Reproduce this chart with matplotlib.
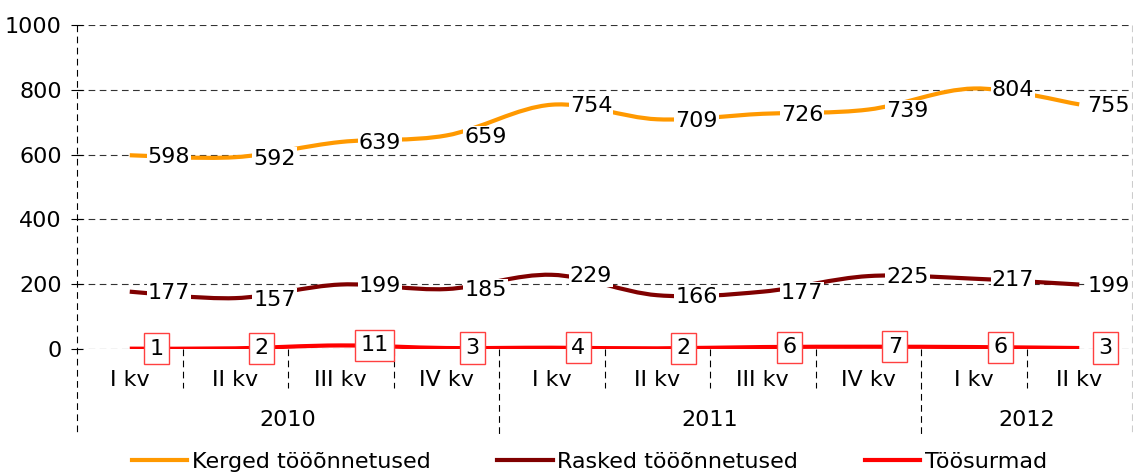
import numpy as np
import matplotlib
matplotlib.use("Agg")
import matplotlib.pyplot as plt
from matplotlib.path import Path
from matplotlib.patches import PathPatch
from matplotlib.lines import Line2D
import matplotlib.transforms as mtransforms

# data
quarters = ["I kv", "II kv", "III kv", "IV kv", "I kv", "II kv", "III kv", "IV kv", "I kv", "II kv"]
years = ["2010", "2011", "2012"]
year_spans = [(0, 3), (4, 7), (8, 9)]
kerged = [598, 592, 639, 659, 754, 709, 726, 739, 804, 755]
rasked = [177, 157, 199, 185, 229, 166, 177, 225, 217, 199]
surmad = [1, 2, 11, 3, 4, 2, 6, 7, 6, 3]
series_names = ["Kerged tööõnnetused", "Rasked tööõnnetused", "Töösurmad"]
colors = ["#FF9900", "#800000", "#FF0000"]

plt.rcParams['font.family'] = ['DejaVu Sans']
FS = 16


def smooth_path(xs, ys):
    # excel-like smoothed line as cubic bezier through the points
    pts = np.column_stack([xs, ys]).astype(float)
    n = len(pts)
    verts = [pts[0]]
    codes = [Path.MOVETO]
    for i in range(n - 1):
        p0 = pts[i - 1] if i > 0 else pts[i]
        p1 = pts[i]
        p2 = pts[i + 1]
        p3 = pts[i + 2] if i + 2 < n else pts[i + 1]
        c1 = p1 + (p2 - p0) / 6.0
        c2 = p2 - (p3 - p1) / 6.0
        verts += [c1, c2, p2]
        codes += [Path.CURVE4] * 3
    return Path(verts, codes)


fig = plt.figure(figsize=(11.33, 4.74), dpi=100)
ax = fig.add_axes([77 / 1133, 125 / 474, 1055 / 1133, 324 / 474])

x = np.arange(len(quarters))
for vals, col in zip([kerged, rasked, surmad], colors):
    patch = PathPatch(smooth_path(x, vals), facecolor="none", edgecolor=col,
                      lw=3, zorder=3, capstyle="butt")
    ax.add_patch(patch)

# data labels (last ones pushed left so they stay inside, like excel does)
last = len(quarters) - 1
for vals in [kerged, rasked]:
    for xi, v in zip(x, vals):
        dx = 6 if xi == last else 13
        ax.annotate(str(v), (xi, v), xytext=(dx, -1), textcoords="offset points",
                    ha="left", va="center", fontsize=FS, zorder=5,
                    bbox=dict(boxstyle="square,pad=0.05", fc="white", ec="none"))
for xi, v in zip(x, surmad):
    ax.annotate(str(v), (xi, v), xytext=(14, 0), textcoords="offset points",
                ha="left", va="center", fontsize=FS, zorder=5,
                bbox=dict(boxstyle="square,pad=0.25", fc="white", ec="#FF4040", lw=1))

ax.set_xlim(-0.5, len(quarters) - 0.5)
ax.set_ylim(0, 1000)
ax.set_yticks(np.arange(0, 1001, 200))
ax.tick_params(axis="y", labelsize=FS, direction="inout", length=8, width=0.8, pad=7)
ax.set_xticks([])
for s in ax.spines.values():
    s.set_visible(False)
ax.yaxis.grid(True, color="#333333", lw=0.8, ls=(0, (6, 4)))
ax.set_axisbelow(True)

# multi level category axis
trans = mtransforms.blended_transform_factory(ax.transData, ax.transAxes)
ax.plot([-0.5, -0.5], [1, -0.27], transform=trans, clip_on=False,
        color="black", lw=0.8, ls=(0, (6, 4)))
ax.plot([9.5, 9.5], [1, -0.27], transform=trans, clip_on=False,
        color="#CCCCCC", lw=0.8, ls=(0, (6, 4)))
for i in range(len(quarters) - 1):
    b = i + 0.5
    long_sep = any(b == end + 0.5 for _, end in year_spans[:-1])
    ax.plot([b, b], [0, -0.27 if long_sep else -0.12], transform=trans,
            clip_on=False, color="black", lw=0.8, ls=(0, (6, 4)))
for xi, q in enumerate(quarters):
    ax.text(xi, -0.095, q, transform=trans, ha="center", va="center", fontsize=FS)
for (a, b), yr in zip(year_spans, years):
    ax.text((a + b) / 2, -0.22, yr, transform=trans, ha="center", va="center", fontsize=FS)

handles = [Line2D([], [], color=c, lw=3) for c in colors]
fig.legend(handles, series_names, loc="center", bbox_to_anchor=(0.52, 0.025),
           ncol=3, frameon=False, fontsize=FS, handlelength=2.5,
           columnspacing=3.0, handletextpad=0.2)

fig.savefig("out.png", dpi=100)
